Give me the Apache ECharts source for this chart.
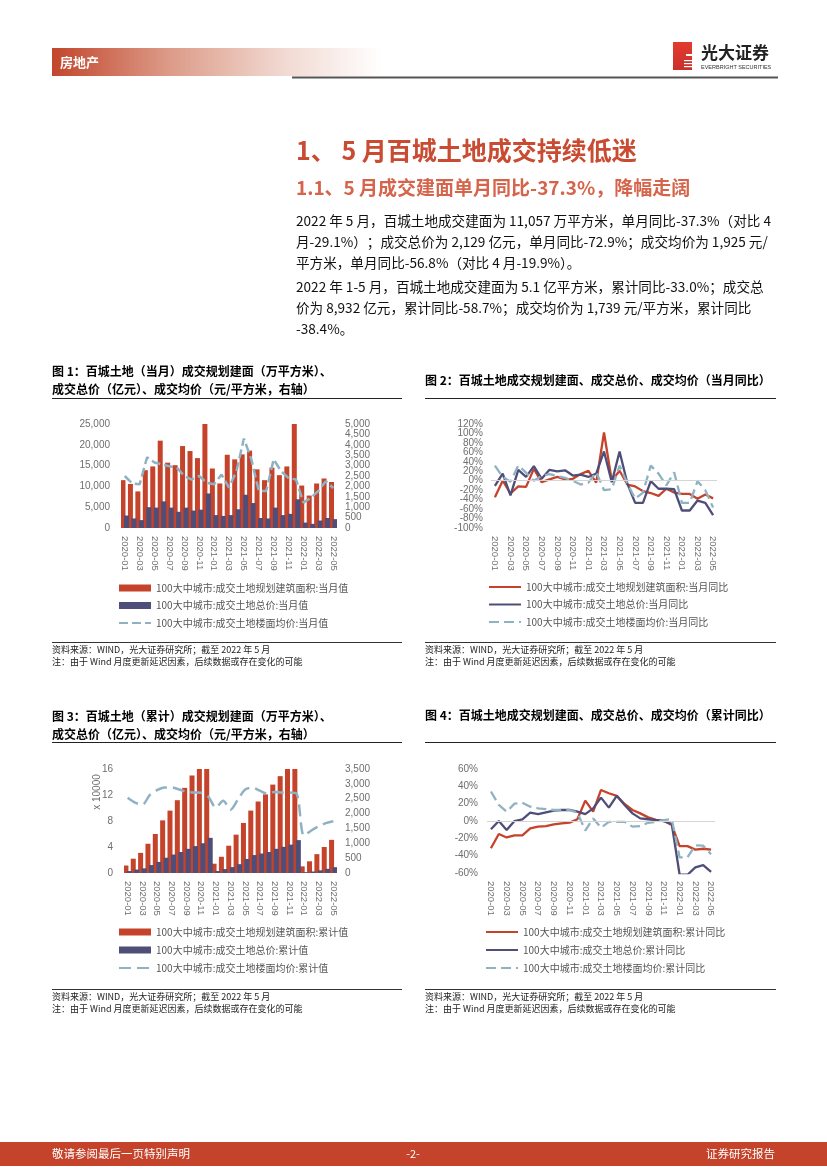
<!DOCTYPE html>
<html><head><meta charset="utf-8">
<script src="https://cdn.jsdelivr.net/npm/echarts@6/dist/echarts.min.js"></script>
<style>html,body{margin:0;padding:0;background:#fff}#c{width:827px;height:1169px}</style>
</head><body><div id="c"></div>
<script>
// ---- data ----
const categories = ['2020-01','2020-02','2020-03','2020-04','2020-05','2020-06','2020-07','2020-08','2020-09','2020-10','2020-11','2020-12',
  '2021-01','2021-02','2021-03','2021-04','2021-05','2021-06','2021-07','2021-08','2021-09','2021-10','2021-11','2021-12',
  '2022-01','2022-02','2022-03','2022-04','2022-05'];
// Figure 1: monthly
const monthArea  = [11500,10600,8800,13900,14800,21000,15700,15100,19700,18500,16800,25000,14300,10700,17600,16500,17700,18600,14100,11500,14500,12700,14800,25000,10200,7800,10700,11900,11057];
const monthTotal = [3000,2300,1900,5000,4900,6400,4900,3900,4900,4200,4400,8300,3100,2900,3100,4500,8000,6000,2400,2300,4900,3100,3400,6900,1300,1000,1800,2400,2129];
const monthAvg   = [2500,2150,2100,3400,3150,3050,2970,2900,2500,2330,2500,2170,2100,2570,1940,2730,4300,3300,1780,1780,3300,2730,2400,2330,1220,1460,1780,2250,1925];
// Figure 2: monthly YoY (%)
const yoyArea  = [-35,0,-27,-12,-13,25,-3,3,8,3,4,14,21,-4,102,0,21,-8,-12,-22,-26,-32,-17,-25,-28,-28,-38,-29.1,-37.3];
const yoyTotal = [-11,15,-31,23,8,31,4,23,20,22,11,13,8,15,62,-3,62,-6,-47,-47,-1,-17,-17,-18,-63,-63,-42,-47,-72.9];
const yoyAvg   = [32,8,-2,32,17,0,10,14,10,6,0,-8,-4,18,-20,-18,32,-6,-38,-25,32,15,-10,18,-47,-47,-1,-19.9,-56.8];
// Figure 3: cumulative (area & total in x10000)
const cumArea  = [1.15,2.2,3.1,4.5,6.0,8.1,9.6,11.2,13.1,15.0,16.6,19.1,1.43,2.5,4.2,5.9,7.7,9.6,11.0,12.1,13.6,14.9,16.4,18.9,1.02,1.8,2.9,4.0,5.1];
const cumTotal = [0.30,0.53,0.72,1.22,1.71,2.35,2.84,3.23,3.72,4.14,4.58,5.41,0.31,0.60,0.91,1.36,2.16,2.76,3.00,3.23,3.72,4.03,4.37,5.06,0.13,0.23,0.41,0.65,0.893];
const cumAvg   = [2530,2370,2300,2620,2790,2880,2880,2810,2730,2710,2700,2560,2200,2430,2130,2470,2810,2870,2770,2670,2730,2710,2710,2670,1260,1430,1570,1680,1739];
// Figure 4: cumulative YoY (%)
const cumYoyArea  = [-31.5,-15,-19,-16.5,-16.5,-8.5,-6.5,-5.8,-3.8,-2.7,-1.9,2,23.5,10.8,35.8,32,29,19.6,12.7,8.8,4.2,1.2,0,-4.6,-29,-29,-33,-32,-33.0];
const cumYoyTotal = [-9.6,0,-10.4,0,2,9.6,8,10,12,12.7,12.7,10.8,8,14.6,27,15.4,29,18.5,8.8,3,2,1,0,-3.5,-62,-62,-53.5,-50.8,-58.7];
const cumYoyAvg   = [34,18.5,10.8,20,21,16.5,14.6,13.8,12.7,12.7,12.7,9.6,-11,3,-7.7,-1,-1,-1,-6.5,-5.8,-2,-1,1,2.3,-42,-42,-28,-28.5,-38.4];

const names1 = ['100大中城市:成交土地规划建筑面积:当月值','100大中城市:成交土地总价:当月值','100大中城市:成交土地楼面均价:当月值'];
const names2 = ['100大中城市:成交土地规划建筑面积:当月同比','100大中城市:成交土地总价:当月同比','100大中城市:成交土地楼面均价:当月同比'];
const names3 = ['100大中城市:成交土地规划建筑面积:累计值','100大中城市:成交土地总价:累计值','100大中城市:成交土地楼面均价:累计值'];
const names4 = ['100大中城市:成交土地规划建筑面积:累计同比','100大中城市:成交土地总价:累计同比','100大中城市:成交土地楼面均价:累计同比'];

// ---- styles ----
const RED = '#c5432a', NAVY = '#4f4e78', LBLUE = '#8fb2c3';
const AX = 'Liberation Sans, Arial, sans-serif';
const CJK = '"Noto Sans CJK SC", sans-serif';
const labCol = '#6e6e6e';
const comma = v => String(v).replace(/\B(?=(\d{3})+(?!\d))/g, ',');
const pct = v => v + '%';

function xAx(gi, hidden){
  return {type:'category', gridIndex:gi, data:categories, boundaryGap:true, show:!hidden,
    axisLine:{show:false}, axisTick:{show:false},
    axisLabel:{interval:1, rotate:-90, margin:8, fontSize:9.5, color:labCol, fontFamily:AX}};
}
function yAx(gi, min, max, iv, fmt, pos, margin, extra){
  return {type:'value', gridIndex:gi, min, max, interval:iv, position:pos||'left',
    splitLine:{show:false}, axisLine:{show:false}, axisTick:{show:false},
    axisLabel:Object.assign({formatter:fmt, fontSize:10, color:labCol, fontFamily:AX, margin:margin||8,
      showMinLabel:true, showMaxLabel:true}, extra||{})};
}
function legend(names, left, top, barIcons, gap){
  return {orient:'vertical', left, top, padding:0, itemWidth:32, itemHeight:7, itemGap:gap, selectedMode:false,
    textStyle:{fontSize:10, lineHeight:14, color:'#555', fontFamily:CJK},
    data: names.map((n,i)=> barIcons && i<2 ? {name:n, icon:'rect'} : {name:n, itemStyle:{opacity:0}})};
}
const T = (x,y,text,font,fill,align,extra)=>Object.assign({type:'text', x, y, silent:true,
  style:{text, font, fill:fill||'#000', align:align||'left', verticalAlign:'middle'}}, extra||{});
const L = (x1,y1,x2,y2,stroke,w)=>({type:'line', silent:true, shape:{x1,y1,x2,y2}, style:{stroke:stroke||'#000', lineWidth:w||1}});
const R = (x,y,w,h,fill)=>({type:'rect', silent:true, shape:{x,y,width:w,height:h}, style:{fill}});

const body = '13.6px "Noto Sans CJK SC"';
const ctitle = 'bold 12px "Noto Sans CJK SC"';
const src = '9px "Noto Sans CJK SC"';

const graphics = [
  // header band
  R(52,48,330,28,{type:'linear',x:0,y:0,x2:1,y2:0,colorStops:[{offset:0,color:'#c2462c'},{offset:0.35,color:'#dc9a87'},{offset:0.7,color:'#f1d9d1'},{offset:1,color:'#ffffff'}]}),
  T(60,62,'房地产','bold 13px "Noto Sans CJK SC"','#fff'),
  L(292,77.5,778,77.5,'#555',2),
  // logo
  R(673,42,19,28,{type:'linear',x:0,y:0,x2:0,y2:1,colorStops:[{offset:0,color:'#e23b2e'},{offset:1,color:'#c9302c'}]}),
  R(686,54,6,2,'#fff'), R(684,60,8,1.2,'#fff'), R(684,63,8,1.2,'#fff'), R(684,66,8,1.2,'#fff'),
  T(701,53,'光大证券','bold 17px "Noto Sans CJK SC"','#222'),
  T(701,67,'EVERBRIGHT SECURITIES','5.5px "Liberation Sans"','#333'),
  // titles
  T(296,150,'1、 5 月百城土地成交持续低迷','bold 25px "Noto Sans CJK SC"','#c94b32'),
  T(296,188,'1.1、5 月成交建面单月同比-37.3%，降幅走阔','bold 19px "Noto Sans CJK SC"','#d5644b'),
  T(296,221,'2022 年 5 月，百城土地成交建面为 11,057 万平方米，单月同比-37.3%（对比 4',body,'#111'),
  T(296,242,'月-29.1%）；成交总价为 2,129 亿元，单月同比-72.9%；成交均价为 1,925 元/',body,'#111'),
  T(296,263,'平方米，单月同比-56.8%（对比 4 月-19.9%）。',body,'#111'),
  T(296,287,'2022 年 1-5 月，百城土地成交建面为 5.1 亿平方米，累计同比-33.0%；成交总',body,'#111'),
  T(296,308,'价为 8,932 亿元，累计同比-58.7%；成交均价为 1,739 元/平方米，累计同比',body,'#111'),
  T(296,329,'-38.4%。',body,'#111'),
  // chart titles
  T(52,371,'图 1：百城土地（当月）成交规划建面（万平方米）、',ctitle),
  T(52,389,'成交总价（亿元）、成交均价（元/平方米，右轴）',ctitle),
  L(52,398.5,402,398.5,'#222',1),
  T(425,380,'图 2：百城土地成交规划建面、成交总价、成交均价（当月同比）',ctitle),
  L(425,398.5,776,398.5,'#222',1),
  T(52,716,'图 3：百城土地（累计）成交规划建面（万平方米）、',ctitle),
  T(52,734,'成交总价（亿元）、成交均价（元/平方米，右轴）',ctitle),
  L(52,742.5,402,742.5,'#222',1),
  T(425,715,'图 4：百城土地成交规划建面、成交总价、成交均价（累计同比）',ctitle),
  L(425,742.5,776,742.5,'#222',1),
  // sources
  L(52,642.5,402,642.5,'#333',1), L(425,642.5,776,642.5,'#333',1),
  T(52,650,'资料来源：WIND，光大证券研究所；截至 2022 年 5 月',src,'#222'),
  T(52,662,'注：由于 Wind 月度更新延迟因素，后续数据或存在变化的可能',src,'#222'),
  T(425,650,'资料来源：WIND，光大证券研究所；截至 2022 年 5 月',src,'#222'),
  T(425,662,'注：由于 Wind 月度更新延迟因素，后续数据或存在变化的可能',src,'#222'),
  L(52,989.5,402,989.5,'#333',1), L(425,989.5,776,989.5,'#333',1),
  T(52,997,'资料来源：WIND，光大证券研究所；截至 2022 年 5 月',src,'#222'),
  T(52,1009,'注：由于 Wind 月度更新延迟因素，后续数据或存在变化的可能',src,'#222'),
  T(425,997,'资料来源：WIND，光大证券研究所；截至 2022 年 5 月',src,'#222'),
  T(425,1009,'注：由于 Wind 月度更新延迟因素，后续数据或存在变化的可能',src,'#222'),
  // x 10000 axis unit
  T(97,792,'x 10000','10px "Liberation Sans"',labCol,'center',{rotation:Math.PI/2}),
  // footer
  R(0,1142,827,24,'#c4432a'),
  T(52,1154,'敬请参阅最后一页特别声明','11.5px "Noto Sans CJK SC"','#fff'),
  T(413,1154,'-2-','11px "Noto Sans CJK SC"','#fff','center'),
  T(775,1154,'证券研究报告','11.5px "Noto Sans CJK SC"','#fff','right'),
];

const zeroLine = {silent:true, symbol:'none', label:{show:false}, lineStyle:{color:'#d4d4d4', type:'solid', width:1}, data:[{yAxis:0}]};
const bw = 5, bg = '-30%';

// chart 2 y range -100..120; labels split over two axes (every other tick each) so none overlap
const g2Top = 424, g2H = 104;
const option = {
  animation:false,
  grid:[
    {left:121, top:424, width:216, height:104},
    {left:491, top:g2Top, width:226, height:g2H},
    {left:124, top:769, width:213, height:104},
    {left:487, top:769, width:228, height:104},
    // helper grid sharing chart 2's scale, extended down to -120 so its ticks fall on -80,-40,...,120
    {left:491, top:g2Top, width:226, height:g2H*240/220},
  ],
  xAxis:[xAx(0), xAx(1), xAx(2), xAx(3), xAx(4,true)],
  yAxis:[
    yAx(0,0,25000,5000,comma,'left',11),
    yAx(0,0,5000,500,comma,'right',8),
    yAx(1,-100,120,40,pct,'left',8,{showMaxLabel:false}),
    yAx(2,0,16,4,null,'left',11),
    yAx(2,0,3500,500,comma,'right',8),
    yAx(3,-60,60,20,pct,'left',9),
    yAx(4,-120,120,40,pct,'left',8,{showMinLabel:false}),
  ],
  legend:[
    legend(names1,118,581,true,3.5),
    legend(names2,488,580,false,3.5),
    legend(names3,118,925,true,4),
    legend(names4,485,925,false,4),
  ],
  series:[
    {name:names1[0], type:'bar', xAxisIndex:0, yAxisIndex:0, data:monthArea, barWidth:bw, barGap:bg, itemStyle:{color:RED}},
    {name:names1[1], type:'bar', xAxisIndex:0, yAxisIndex:0, data:monthTotal, barWidth:bw, barGap:bg, itemStyle:{color:NAVY}},
    {name:names1[2], type:'line', xAxisIndex:0, yAxisIndex:1, data:monthAvg, symbol:'none', lineStyle:{color:LBLUE, width:2.5, type:[9,4]}, itemStyle:{color:LBLUE}},

    {name:names2[0], type:'line', xAxisIndex:1, yAxisIndex:2, data:yoyArea, symbol:'none', lineStyle:{color:RED, width:2.3}, itemStyle:{color:RED}, markLine:zeroLine, z:2},
    {name:names2[1], type:'line', xAxisIndex:1, yAxisIndex:2, data:yoyTotal, symbol:'none', lineStyle:{color:NAVY, width:2.3}, itemStyle:{color:NAVY}, z:3},
    {name:names2[2], type:'line', xAxisIndex:1, yAxisIndex:2, data:yoyAvg, symbol:'none', lineStyle:{color:LBLUE, width:2.3, type:[10,5]}, itemStyle:{color:LBLUE}, z:4},

    {name:names3[0], type:'bar', xAxisIndex:2, yAxisIndex:3, data:cumArea, barWidth:bw, barGap:bg, itemStyle:{color:RED}},
    {name:names3[1], type:'bar', xAxisIndex:2, yAxisIndex:3, data:cumTotal, barWidth:bw, barGap:bg, itemStyle:{color:NAVY}},
    {name:names3[2], type:'line', xAxisIndex:2, yAxisIndex:4, data:cumAvg, symbol:'none', smooth:0.3, lineStyle:{color:LBLUE, width:2.5, type:[12,6]}, itemStyle:{color:LBLUE}},

    {name:names4[0], type:'line', xAxisIndex:3, yAxisIndex:5, data:cumYoyArea, symbol:'none', lineStyle:{color:RED, width:2.3}, itemStyle:{color:RED}, markLine:zeroLine, z:2},
    {name:names4[1], type:'line', xAxisIndex:3, yAxisIndex:5, data:cumYoyTotal, symbol:'none', lineStyle:{color:NAVY, width:2.3}, itemStyle:{color:NAVY}, z:3},
    {name:names4[2], type:'line', xAxisIndex:3, yAxisIndex:5, data:cumYoyAvg, symbol:'none', lineStyle:{color:LBLUE, width:2.3, type:[10,5]}, itemStyle:{color:LBLUE}, z:4},
  ],
  graphic: graphics
};
const chart = echarts.init(document.getElementById('c'), null, {renderer:'canvas'});
chart.setOption(option);
</script></body></html>
